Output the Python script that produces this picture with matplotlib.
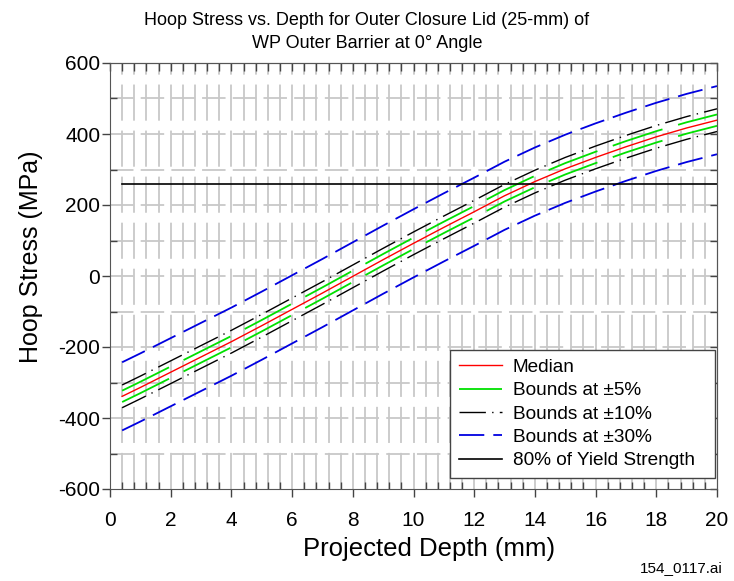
import matplotlib
matplotlib.use('Agg')
import matplotlib.pyplot as plt
from matplotlib.ticker import MultipleLocator, NullFormatter

plt.rcParams['font.family'] = ['Liberation Sans', 'DejaVu Sans']
plt.rcParams['axes.unicode_minus'] = False

# depth (mm) and hoop stress (MPa)
depth = [0.4, 1, 2, 3, 4, 5, 6, 7, 8, 9, 10, 11, 12, 13, 14, 15, 16, 17, 18, 19, 20]
median = [-339, -314, -271, -228, -185, -140, -94, -48, -1, 46, 92, 137, 181, 226, 266, 302, 334, 364, 392, 417, 439]
upper_5 = [-323, -298, -255, -212, -169, -124, -78, -32, 15, 62, 108, 153, 197, 242, 282, 318, 350, 380, 408, 433, 455]
lower_5 = [-355, -330, -287, -244, -201, -156, -110, -64, -17, 30, 76, 121, 165, 210, 250, 286, 318, 348, 376, 401, 423]
upper_10 = [-307, -282, -239, -196, -153, -108, -62, -16, 31, 78, 124, 169, 213, 258, 298, 334, 366, 396, 424, 449, 471]
lower_10 = [-371, -346, -303, -260, -217, -172, -126, -80, -33, 14, 60, 105, 149, 194, 234, 270, 302, 332, 360, 385, 407]
upper_30 = [-243, -218, -175, -132, -89, -44, 2, 48, 95, 142, 188, 233, 277, 322, 362, 398, 430, 460, 488, 513, 535]
lower_30 = [-435, -410, -367, -324, -281, -236, -190, -144, -97, -50, -4, 41, 85, 130, 170, 206, 238, 268, 296, 321, 343]
yield_x = [0.4, 20]
yield_y = [259, 259]

fig = plt.figure(figsize=(7.34, 5.81), dpi=100)
ax = fig.add_axes([110 / 734, 1 - 489 / 581, 607 / 734, 426 / 581])

# grid
for gx in [i * 0.4 for i in range(1, 50)]:
    ax.axvline(gx, color='#c8c8c8', lw=1.3, ls=(0, (20, 5.5)), zorder=0)
for gy in range(-500, 600, 100):
    ax.axhline(gy, color='#c8c8c8', lw=1.3, ls=(0, (13, 4)), zorder=0)

ax.plot(depth, median, color='#ff0000', lw=1.0, label='Median')
ax.plot(depth, upper_5, color='#00e000', lw=1.3, ls=(0, (29, 9)), label='Bounds at \u00b15%')
ax.plot(depth, lower_5, color='#00e000', lw=1.3, ls=(0, (29, 9)))
ax.plot(depth, upper_10, color='black', lw=1.0, ls=(0, (19, 4.5, 1, 4.5)), label='Bounds at \u00b110%')
ax.plot(depth, lower_10, color='black', lw=1.0, ls=(0, (19, 4.5, 1, 4.5)))
ax.plot(depth, upper_30, color='#0000e0', lw=1.3, ls=(0, (14, 5)), label='Bounds at \u00b130%')
ax.plot(depth, lower_30, color='#0000e0', lw=1.3, ls=(0, (14, 5)))
ax.plot(yield_x, yield_y, color='black', lw=1.2, label='80% of Yield Strength')

ax.set_xlim(0, 20)
ax.set_ylim(-600, 600)
ax.xaxis.set_major_locator(MultipleLocator(2))
ax.xaxis.set_minor_locator(MultipleLocator(0.4))
ax.yaxis.set_major_locator(MultipleLocator(200))
ax.yaxis.set_minor_locator(MultipleLocator(100))
ax.tick_params(which='major', direction='out', length=6, width=1, color='#444444', labelsize=15, pad=1)
ax.tick_params(axis='x', which='major', pad=10)
ax.tick_params(which='minor', direction='in', length=5, width=1, color='#444444')
for s in ax.spines.values():
    s.set_color('#555555')

top = ax.secondary_xaxis('top')
top.xaxis.set_major_locator(MultipleLocator(0.4))
top.xaxis.set_major_formatter(NullFormatter())
top.tick_params(direction='in', length=6, width=1, color='#444444')
right = ax.secondary_yaxis('right')
right.yaxis.set_major_locator(MultipleLocator(100))
right.yaxis.set_major_formatter(NullFormatter())
right.tick_params(direction='in', length=5, width=1, color='#444444')
top.spines['top'].set_color('#555555')
right.spines['right'].set_color('#555555')

ax.set_xlabel('Projected Depth (mm)', fontsize=18.5)
ax.xaxis.set_label_coords(0.5255, -0.112)
ax.set_ylabel('Hoop Stress (MPa)', fontsize=18)
ax.yaxis.set_label_coords(-0.11, 0.545)
fig.suptitle('Hoop Stress vs. Depth for Outer Closure Lid (25-mm) of\nWP Outer Barrier at 0\u00b0 Angle',
             x=0.5, y=0.979, fontsize=13, linespacing=1.43)

leg = ax.legend(loc='lower left', bbox_to_anchor=(340 / 607, 11 / 426, 265 / 607, 0.2), mode='expand',
                fontsize=13.7, fancybox=False, framealpha=1, edgecolor='#444444', borderaxespad=0,
                labelspacing=0.32, handlelength=2.3, handletextpad=0.55, borderpad=0.45)
leg.get_frame().set_linewidth(1.0)

fig.text(0.985, 0.01, '154_0117.ai', ha='right', va='bottom', fontsize=11)

fig.savefig('out.png', dpi=100)
